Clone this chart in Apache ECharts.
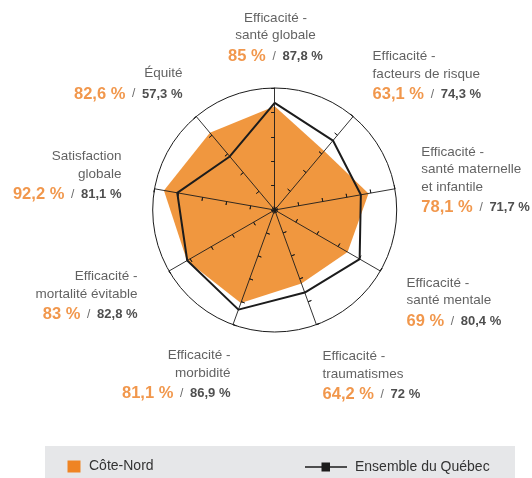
<!DOCTYPE html>
<html>
<head>
<meta charset="utf-8">
<style>
  html, body { margin: 0; padding: 0; background: #fff; }
  #chart { width: 532px; height: 478px; }
</style>
<script src="https://cdn.jsdelivr.net/npm/echarts@6/dist/echarts.min.js"></script>
</head>
<body>
<div id="chart"></div>
<script>
// Dimensions, listed clockwise from the top spoke
const dimensions = [
  'Efficacité -\nsanté globale',
  'Efficacité -\nfacteurs de risque',
  'Efficacité -\nsanté maternelle\net infantile',
  'Efficacité -\nsanté mentale',
  'Efficacité -\ntraumatismes',
  'Efficacité -\nmorbidité',
  'Efficacité -\nmortalité évitable',
  'Satisfaction\nglobale',
  'Équité'
];
const coteNord = [85, 63.1, 78.1, 69, 64.2, 81.1, 83, 92.2, 82.6];
const quebec = [87.8, 74.3, 71.7, 80.4, 72, 86.9, 82.8, 81.1, 57.3];
const seriesNames = ['Côte-Nord', 'Ensemble du Québec'];
const axisMax = 100;

// Label placement (pixel offsets from each spoke's outer end)
const labelLayout = [
  { align: 'center', dx: 1.3, dy: -78 },
  { align: 'left', dx: 20, dy: -68.5 },
  { align: 'left', dx: 27, dy: -45 },
  { align: 'left', dx: 26.6, dy: 3.8 },
  { align: 'left', dx: 6.6, dy: 23.5 },
  { align: 'right', dx: -2, dy: 22.5 },
  { align: 'right', dx: -31, dy: -2.8 },
  { align: 'right', dx: -32.6, dy: -40.5 },
  { align: 'right', dx: -13.3, dy: -51.5 }
];

const FONT = '"Liberation Sans", Arial, Helvetica, sans-serif';
const CENTER = [274.7, 210];
const RADIUS = 122;
const ORANGE_TEXT = '#ee7d1f';
const ORANGE_FILL = '#f0973f';
const ORANGE_KEY = '#ef8424';
const DARK = '#1c1c1c';

const fmt = v => String(v).replace('.', ',') + ' %';

// ECharts lays radar indicators out counter-clockwise; reorder so they run clockwise.
const radarOrder = dimensions.map((_, i) => (dimensions.length - i) % dimensions.length);
const indicators = radarOrder.map(i => ({ name: dimensions[i], min: 0, max: axisMax }));

const baseRadar = {
  center: CENTER,
  radius: RADIUS,
  startAngle: 90,
  shape: 'circle',
  splitNumber: 5,
  indicator: indicators,
  axisName: { show: false },
  splitArea: { show: false },
  z: 2
};

const labelData = dimensions.map((name, i) => {
  const lay = labelLayout[i];
  const lines = name.split('\n').map(t => '{n|' + t + '}');
  lines.push('{o|' + fmt(coteNord[i]) + '}{s|  /  }{b|' + fmt(quebec[i]) + '}');
  return {
    value: [axisMax, i],
    label: {
      show: true,
      position: [lay.dx, lay.dy],
      align: lay.align,
      verticalAlign: 'top',
      formatter: lines.join('\n')
    }
  };
});

const chart = echarts.init(document.getElementById('chart'), null, { renderer: 'canvas' });
chart.setOption({
  animation: false,
  backgroundColor: '#ffffff',
  textStyle: { fontFamily: FONT },
  graphic: [{
    type: 'rect',
    left: 45, top: 446,
    shape: { width: 470, height: 32 },
    style: { fill: '#e6e7e9' },
    z: 0, silent: true
  }],
  legend: [{
    data: [{ name: seriesNames[0], icon: 'rect' }],
    left: 67.5, top: 459.5, padding: 0,
    itemWidth: 13, itemHeight: 12,
    selectedMode: false,
    textStyle: { fontFamily: FONT, fontSize: 14, color: '#333', padding: [0, 0, 0, 3.5] }
  }, {
    data: [{ name: seriesNames[1], icon: 'path://M0,3.7H16.5V0H25V3.7H42V5.3H25V9H16.5V5.3H0Z' }],
    left: 305, top: 460, padding: 0,
    itemWidth: 42, itemHeight: 9,
    selectedMode: false,
    textStyle: { fontFamily: FONT, fontSize: 14, color: '#333', padding: [0, 0, 0, 3] }
  }],
  radar: [
    Object.assign({}, baseRadar, {
      axisLine: { show: true, lineStyle: { color: DARK, width: 0.9 } },
      axisTick: { show: true, length: 3.5, lineStyle: { color: DARK, width: 0.9 } },
      splitLine: {
        show: true,
        lineStyle: { color: ['transparent', 'transparent', 'transparent', 'transparent', 'transparent', DARK], width: 1 }
      }
    }),
    Object.assign({}, baseRadar, {
      axisLine: { show: false },
      axisTick: { show: true, inside: true, length: 3.5, lineStyle: { color: DARK, width: 0.9 } },
      splitLine: { show: false }
    })
  ],
  polar: { center: CENTER, radius: RADIUS },
  angleAxis: {
    type: 'category',
    data: dimensions.map((_, i) => String(i)),
    startAngle: 90,
    clockwise: true,
    boundaryGap: false,
    show: false,
    axisLine: { show: false }, axisTick: { show: false },
    axisLabel: { show: false }, splitLine: { show: false }
  },
  radiusAxis: {
    type: 'value', min: 0, max: axisMax, show: false,
    axisLine: { show: false }, axisTick: { show: false },
    axisLabel: { show: false }, splitLine: { show: false }
  },
  series: [{
    type: 'radar',
    radarIndex: 0,
    z: 1,
    symbol: 'none',
    silent: true,
    data: [{
      name: seriesNames[0],
      value: radarOrder.map(i => coteNord[i]),
      itemStyle: { color: ORANGE_KEY },
      lineStyle: { width: 0, color: ORANGE_FILL },
      areaStyle: { color: ORANGE_FILL, opacity: 1 }
    }]
  }, {
    type: 'radar',
    radarIndex: 0,
    z: 3,
    symbol: 'none',
    silent: true,
    data: [{
      name: seriesNames[1],
      value: radarOrder.map(i => quebec[i]),
      itemStyle: { color: DARK },
      lineStyle: { width: 2, color: DARK }
    }]
  }, {
    type: 'scatter',
    coordinateSystem: 'polar',
    silent: true,
    symbol: 'circle',
    symbolSize: 1,
    itemStyle: { color: 'rgba(0,0,0,0)' },
    data: labelData,
    label: {
      fontFamily: FONT,
      rich: {
        n: { fontFamily: FONT, fontSize: 13.5, color: '#3a3a3a', lineHeight: 17.5 },
        o: { fontFamily: FONT, fontSize: 16.5, fontWeight: 'bold', color: ORANGE_TEXT, lineHeight: 24 },
        s: { fontFamily: FONT, fontSize: 12, color: '#444', lineHeight: 24 },
        b: { fontFamily: FONT, fontSize: 13, fontWeight: 'bold', color: '#222', lineHeight: 24 }
      }
    }
  }]
});
</script>
</body>
</html>
